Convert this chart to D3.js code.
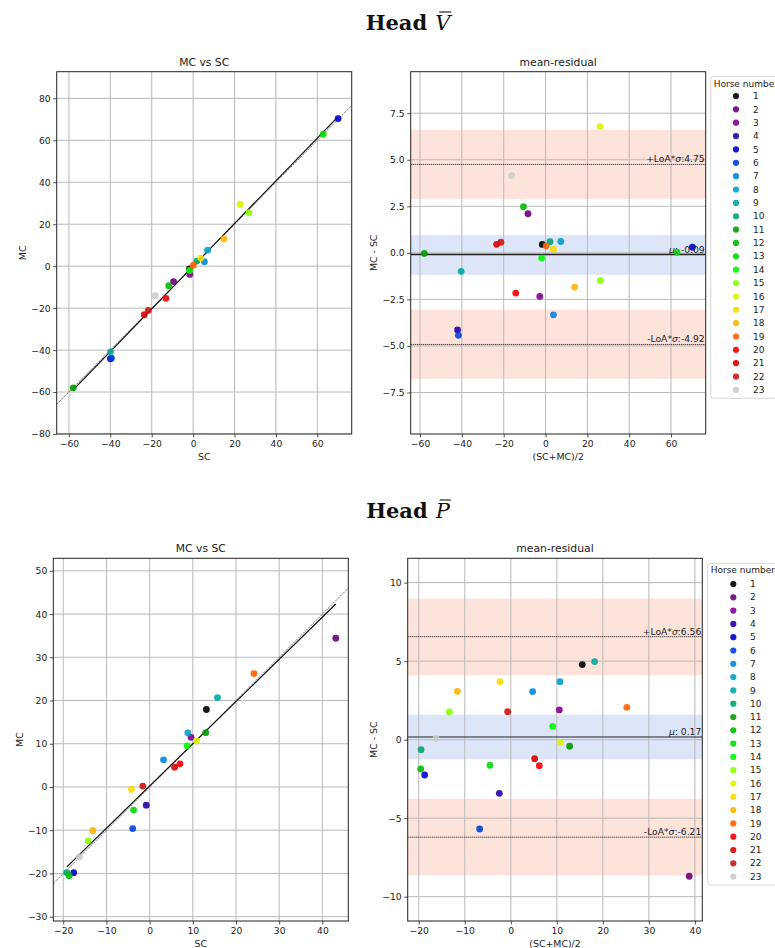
<!DOCTYPE html>
<html>
<head>
<meta charset="utf-8">
<script src="https://cdn.jsdelivr.net/npm/d3@7"></script>
<style>
  html, body { margin: 0; padding: 0; background: #fff; }
  svg { display: block; }
</style>
</head>
<body>
<svg id="chart" width="775" height="948"></svg>
<script>
// ---------------- DATA ----------------
const horseNumbers = [1,2,3,4,5,6,7,8,9,10,11,12,13,14,15,16,17,18,19,20,21,22,23];
const horseColors = ["#000000","#6c007c","#850096","#2500a5","#0000ca","#0041dd","#0086dd","#009fca",
  "#00aaa1","#00a76f","#009c00","#00bb00","#00da00","#00f900","#88ff00","#dbf400","#f7db00",
  "#ffb500","#ff6100","#f60000","#da0000","#cc1313","#cccccc"];

// Head V-bar
const headV_SC = [-1.78,-9.45,-1.58,-39.98,70.05,-39.44,5.45,7.00,-39.86,1.83,-57.94,-11.79,62.85,-1.73,26.95,22.67,3.68,14.84,0.11,-13.15,-23.61,-21.64,-18.26];
const headV_MC = [-1.33,-7.35,-3.92,-44.12,70.35,-43.87,2.12,7.61,-40.85,2.43,-57.97,-9.31,62.89,-2.01,25.46,29.45,3.88,13.00,0.49,-15.31,-23.15,-21.07,-14.11];
const headV_limits = [-0.09, 4.75, -4.92];            // mean, +LoA, -LoA
const headV_bands = [[2.90, 6.61], [-1.18, 0.95], [-6.77, -3.06]];

// Head P-bar
const headP_SC = [13.14,43.11,9.60,-0.78,-17.58,-3.92,3.22,8.84,15.72,-19.17,12.99,-18.64,-3.70,8.67,-14.22,10.85,-4.19,-13.14,24.17,7.02,5.79,-1.57,-16.28];
const headP_MC = [17.92,34.41,11.49,-4.20,-19.83,-9.61,6.28,12.53,20.69,-19.81,12.57,-20.51,-5.33,9.52,-12.46,10.66,-0.50,-10.06,26.23,5.36,4.58,0.21,-16.20];
const headP_limits = [0.17, 6.56, -6.21];
const headP_bands = [[4.10, 8.98], [-1.25, 1.59], [-8.64, -3.76]];

// Tick values
const headV_scatterXTicks = [-60,-40,-20,0,20,40,60];
const headV_scatterYTicks = [-80,-60,-40,-20,0,20,40,60,80];
const headV_residXTicks = [-60,-40,-20,0,20,40,60];
const headV_residYTicks = [-7.5,-5.0,-2.5,0,2.5,5.0,7.5];
const headP_scatterXTicks = [-20,-10,0,10,20,30,40];
const headP_scatterYTicks = [-30,-20,-10,0,10,20,30,40,50];
const headP_residXTicks = [-20,-10,0,10,20,30,40];
const headP_residYTicks = [-10,-5,0,5,10];

// ---------------- DRAWING ----------------
const svg = d3.select("#chart");
svg.append("rect").attr("width", 775).attr("height", 948).attr("fill", "#fff");

const SANS = "DejaVu Sans, sans-serif";
const TICK_FS = 9.2, LABEL_FS = 9.4, TITLE_FS = 10.8;
let clipId = 0;

function frame(rect, xDomain, yDomain, xTicks, yTicks, yFmt, title, xLabel, yLabel) {
  const x = d3.scaleLinear().domain(xDomain).range([rect.x0, rect.x1]);
  const y = d3.scaleLinear().domain(yDomain).range([rect.y1, rect.y0]);
  const g = svg.append("g");
  const id = "clip" + (clipId++);
  svg.append("defs").append("clipPath").attr("id", id)
    .append("rect").attr("x", rect.x0).attr("y", rect.y0)
    .attr("width", rect.x1 - rect.x0).attr("height", rect.y1 - rect.y0);
  const back = g.append("g").attr("clip-path", `url(#${id})`);
  const grid = g.append("g").attr("clip-path", `url(#${id})`);
  const marks = g.append("g").attr("clip-path", `url(#${id})`);
  const axesG = g.append("g");

  grid.selectAll("line.gx").data(xTicks).join("line")
    .attr("x1", d => x(d)).attr("x2", d => x(d)).attr("y1", rect.y0).attr("y2", rect.y1)
    .attr("stroke", "#b9b9b9").attr("stroke-width", 1);
  grid.selectAll("line.gy").data(yTicks).join("line")
    .attr("y1", d => y(d)).attr("y2", d => y(d)).attr("x1", rect.x0).attr("x2", rect.x1)
    .attr("stroke", "#b9b9b9").attr("stroke-width", 1);

  const xAxis = d3.axisBottom(x).tickValues(xTicks).tickSize(3.5).tickPadding(2.5).tickFormat(d3.format("d"));
  const yAxis = d3.axisLeft(y).tickValues(yTicks).tickSize(3.5).tickPadding(2.5).tickFormat(yFmt);
  const xa = axesG.append("g").attr("transform", `translate(0,${rect.y1})`).call(xAxis);
  const ya = axesG.append("g").attr("transform", `translate(${rect.x0},0)`).call(yAxis);
  [xa, ya].forEach(a => {
    a.select(".domain").remove();
    a.selectAll("text").attr("font-family", SANS).attr("font-size", TICK_FS).attr("fill", "#222");
    a.selectAll("line").attr("stroke", "#222").attr("stroke-width", 0.8);
  });
  axesG.append("rect").attr("x", rect.x0).attr("y", rect.y0)
    .attr("width", rect.x1 - rect.x0).attr("height", rect.y1 - rect.y0)
    .attr("fill", "none").attr("stroke", "#222").attr("stroke-width", 1);

  const cx = (rect.x0 + rect.x1) / 2;
  axesG.append("text").attr("x", cx).attr("y", rect.y0 - 6).attr("text-anchor", "middle")
    .attr("font-family", SANS).attr("font-size", TITLE_FS).attr("fill", "#222").text(title);
  axesG.append("text").attr("x", cx).attr("y", rect.y1 + 26).attr("text-anchor", "middle")
    .attr("font-family", SANS).attr("font-size", LABEL_FS).attr("fill", "#222").text(xLabel);
  axesG.append("text")
    .attr("transform", `translate(${rect.x0 - rect.yLabelOff},${(rect.y0 + rect.y1) / 2}) rotate(-90)`)
    .attr("text-anchor", "middle").attr("dy", "0.35em")
    .attr("font-family", SANS).attr("font-size", LABEL_FS).attr("fill", "#222").text(yLabel);
  return { x, y, back, marks };
}

function drawPoints(marks, x, y, xs, ys) {
  marks.selectAll("circle").data(horseNumbers).join("circle")
    .attr("cx", (d, i) => x(xs[i])).attr("cy", (d, i) => y(ys[i])).attr("r", 3.4)
    .attr("fill", (d, i) => horseColors[i]).attr("fill-opacity", 0.9);
}

function scatterPanel(rect, xDomain, yDomain, xTicks, yTicks, sc, mc) {
  const { x, y, marks } = frame(rect, xDomain, yDomain, xTicks, yTicks, d3.format("d"), "MC vs SC", "SC", "MC");
  // identity line
  marks.append("line").attr("x1", x(xDomain[0])).attr("y1", y(xDomain[0]))
    .attr("x2", x(xDomain[1])).attr("y2", y(xDomain[1]))
    .attr("stroke", "#555").attr("stroke-width", 0.8).attr("stroke-dasharray", "2.5,1");
  // regression line
  const mx = d3.mean(sc), my = d3.mean(mc);
  const sxy = d3.sum(sc, (s, i) => (s - mx) * (mc[i] - my));
  const sxx = d3.sum(sc, s => (s - mx) * (s - mx));
  const slope = sxy / sxx, icpt = my - slope * mx;
  const [lo, hi] = d3.extent(sc);
  marks.append("line").attr("x1", x(lo)).attr("y1", y(icpt + slope * lo))
    .attr("x2", x(hi)).attr("y2", y(icpt + slope * hi))
    .attr("stroke", "#000").attr("stroke-width", 1.1);
  drawPoints(marks, x, y, sc, mc);
}

function residPanel(rect, xDomain, yDomain, xTicks, yTicks, yFmt, sc, mc, limits, bands, meanW) {
  const { x, y, back, marks } = frame(rect, xDomain, yDomain, xTicks, yTicks, yFmt, "mean-residual", "(SC+MC)/2", "MC - SC");
  const bandColors = ["#fde3da", "#dde6f8", "#fde3da"];
  back.selectAll("rect").data(bands).join("rect")
    .attr("x", rect.x0).attr("width", rect.x1 - rect.x0)
    .attr("y", d => y(d[1])).attr("height", d => y(d[0]) - y(d[1]))
    .attr("fill", (d, i) => bandColors[i]);
  const means = sc.map((s, i) => (s + mc[i]) / 2);
  const diffs = sc.map((s, i) => mc[i] - s);
  // mean line
  marks.append("line").attr("x1", rect.x0).attr("x2", rect.x1)
    .attr("y1", y(limits[0])).attr("y2", y(limits[0]))
    .attr("stroke", "#222").attr("stroke-width", meanW);
  // LoA lines
  [limits[1], limits[2]].forEach(v => {
    marks.append("line").attr("x1", rect.x0).attr("x2", rect.x1)
      .attr("y1", y(v)).attr("y2", y(v))
      .attr("stroke", "#111").attr("stroke-width", 1).attr("stroke-dasharray", "1,1");
  });
  drawPoints(marks, x, y, means, diffs);
  const fmt = v => v.toFixed(2);   // plain hyphen-minus, as in the reference labels
  const lbl = (v, parts) => {
    const t = marks.append("text").attr("x", rect.x1 - 1).attr("y", y(v) - 2)
      .attr("text-anchor", "end").attr("font-family", SANS).attr("font-size", TICK_FS).attr("fill", "#222");
    parts.forEach(p => t.append("tspan").attr("font-style", p[1] ? "italic" : "normal").text(p[0]));
  };
  lbl(limits[1], [["+LoA*", 0], ["σ", 1], [":" + fmt(limits[1]), 0]]);
  lbl(limits[2], [["-LoA*", 0], ["σ", 1], [":" + fmt(limits[2]), 0]]);
  lbl(limits[0], [["μ", 1], [": " + fmt(limits[0]), 0]]);
}

function legend(x0, y0, h, titleY, firstY, step, markX, labelX) {
  const g = svg.append("g");
  g.append("rect").attr("x", x0).attr("y", y0).attr("width", 90).attr("height", h)
    .attr("rx", 2.5).attr("fill", "#fff").attr("fill-opacity", 0.8)
    .attr("stroke", "#d6d6d6").attr("stroke-width", 1);
  g.append("text").attr("x", x0 + 3).attr("y", titleY).attr("dy", "0.35em")
    .attr("font-family", SANS).attr("font-size", 9).attr("fill", "#222").text("Horse number");
  const rows = g.selectAll("g.row").data(horseNumbers).join("g")
    .attr("transform", (d, i) => `translate(0,${firstY + i * step})`);
  rows.append("circle").attr("cx", markX).attr("cy", 0).attr("r", 3.1)
    .attr("fill", (d, i) => horseColors[i]).attr("fill-opacity", 0.9);
  rows.append("text").attr("x", labelX).attr("y", 0).attr("dy", "0.35em")
    .attr("font-family", SANS).attr("font-size", 9).attr("fill", "#222").text(d => d);
}

function suptitle(cx, baseline, letter) {
  const g = svg.append("g");
  const t1 = g.append("text").attr("y", baseline).attr("font-family", "DejaVu Serif, serif")
    .attr("font-weight", "bold").attr("font-size", 21).attr("fill", "#111").text("Head");
  const t2 = g.append("text").attr("y", baseline).attr("font-family", "DejaVu Serif, serif")
    .attr("font-style", "italic").attr("font-size", 21).attr("fill", "#111").text(letter);
  const w1 = t1.node().getComputedTextLength();
  const w2 = t2.node().getComputedTextLength();
  const gap = 8;
  const start = cx - (w1 + gap + w2) / 2;
  t1.attr("x", start);
  t2.attr("x", start + w1 + gap);
  const vx = start + w1 + gap;
  g.append("line").attr("x1", vx + 4).attr("x2", vx + w2 + 1)
    .attr("y1", baseline - 18).attr("y2", baseline - 18)
    .attr("stroke", "#111").attr("stroke-width", 1.1);
}

// ---- Head V-bar ----
suptitle(408, 30, "V");
scatterPanel({ x0: 56.7, x1: 351.7, y0: 71.7, y1: 434, yLabelOff: 34 },
  [-65.9, 76.6], [-80, 92.7], headV_scatterXTicks, headV_scatterYTicks, headV_SC, headV_MC);
residPanel({ x0: 410.7, x1: 705.7, y0: 71.7, y1: 434, yLabelOff: 36.5 },
  [-64.46, 76.57], [-9.73, 9.73], headV_residXTicks, headV_residYTicks, d3.format(".1f"),
  headV_SC, headV_MC, headV_limits, headV_bands, 1.6);
legend(710.7, 76.7, 321.6, 84, 96, 13.36, 736, 753);

// ---- Head P-bar ----
suptitle(408, 518, "P");
scatterPanel({ x0: 53.3, x1: 348.3, y0: 558.3, y1: 921, yLabelOff: 34 },
  [-22.3, 46.0], [-31.0, 52.9], headP_scatterXTicks, headP_scatterYTicks, headP_SC, headP_MC);
residPanel({ x0: 407.7, x1: 702.3, y0: 558.3, y1: 921, yLabelOff: 34.4 },
  [-22.39, 41.6], [-11.55, 11.55], headP_residXTicks, headP_residYTicks, d3.format("d"),
  headP_SC, headP_MC, headP_limits, headP_bands, 1.2);
legend(707.7, 563.3, 321.7, 570, 584, 13.3, 733.3, 750);
</script>
</body>
</html>
